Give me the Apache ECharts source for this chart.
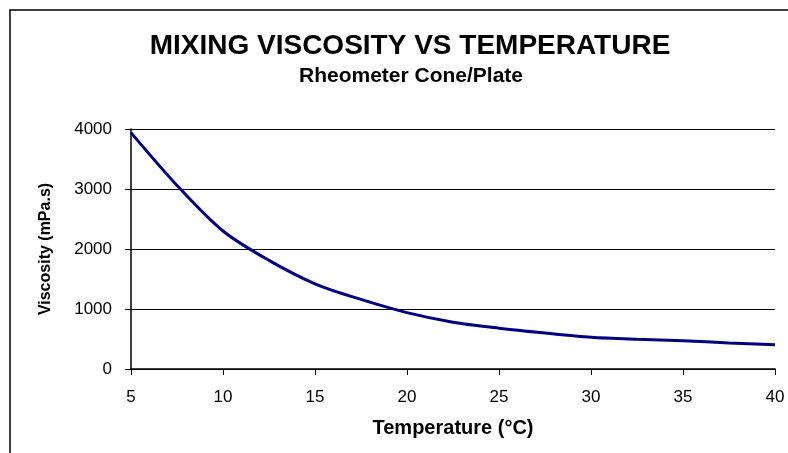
<!DOCTYPE html>
<html>
<head>
<meta charset="utf-8">
<script src="https://cdn.jsdelivr.net/npm/echarts@6/dist/echarts.min.js"></script>
<style>
    html, body { margin: 0; padding: 0; background: #fff; }
    #box { width: 788px; height: 453px; }
</style>
</head>
<body>
<div id="box"></div>
<script>
var temperature = [5, 7.5, 10, 12.5, 15, 17.5, 20, 22.5, 25, 27.5, 30, 32.5, 35, 37.5, 40];
var viscosity = [3940, 3060, 2300, 1810, 1420, 1160, 940, 780, 680, 600, 530, 495, 470, 435, 405];
var xTicks = [5, 10, 15, 20, 25, 30, 35, 40];
var yTicks = [0, 1000, 2000, 3000, 4000];

var points = temperature.map(function (t, i) { return [t, viscosity[i]]; });

var dom = document.getElementById("box");
var myChart = echarts.init(dom);
var font = 'Liberation Sans, Arial, sans-serif';
option = {
    backgroundColor: '#fff',
    animation: false,
    title: [{
        text: 'MIXING VISCOSITY VS TEMPERATURE',
        left: 405,
        top: 27,
        textAlign: 'center',
        textStyle: { color: '#000', fontSize: 28, fontWeight: 'bold', fontFamily: font }
    }, {
        text: 'Rheometer Cone/Plate',
        left: 406,
        top: 61,
        textAlign: 'center',
        textStyle: { color: '#000', fontSize: 21, fontWeight: 'bold', fontFamily: font }
    }],
    graphic: [{
        type: 'rect',
        shape: { x: 10, y: 10, width: 800, height: 460 },
        style: { fill: 'none', stroke: '#000', lineWidth: 1.5 }
    }],
    grid: {
        left: 131,
        right: 13,
        top: 129,
        bottom: 84
    },
    xAxis: {
        type: 'value',
        min: xTicks[0],
        max: xTicks[xTicks.length - 1],
        interval: 5,
        name: 'Temperature (°C)',
        nameLocation: 'middle',
        nameGap: 49,
        nameTextStyle: { color: '#000', fontSize: 20, fontWeight: 'bold', fontFamily: font },
        axisLine: { lineStyle: { color: '#000', width: 1.5 } },
        axisTick: { show: true, length: 6, lineStyle: { color: '#000' } },
        axisLabel: { color: '#000', fontSize: 17, fontFamily: font, margin: 20 },
        splitLine: { show: false }
    },
    yAxis: {
        type: 'value',
        min: yTicks[0],
        max: yTicks[yTicks.length - 1],
        interval: 1000,
        name: 'Viscosity (mPa.s)',
        nameLocation: 'middle',
        nameGap: 77,
        nameTextStyle: { color: '#000', fontSize: 16, fontWeight: 'bold', fontFamily: font },
        axisLine: { show: true, lineStyle: { color: '#000', width: 1.5 } },
        axisTick: { show: true, length: 6, lineStyle: { color: '#000' } },
        axisLabel: {
            color: '#000', fontSize: 17, fontFamily: font, margin: 19,
            formatter: function (v) { return String(v); }
        },
        splitLine: { show: true, lineStyle: { color: '#000', width: 1 } }
    },
    series: [{
        name: 'Viscosity',
        type: 'line',
        data: points,
        showSymbol: false,
        smooth: 0.3,
        lineStyle: { color: '#000080', width: 3 }
    }]
};
if (option && typeof option === "object") {
    myChart.setOption(option, true);
}
</script>
</body>
</html>
